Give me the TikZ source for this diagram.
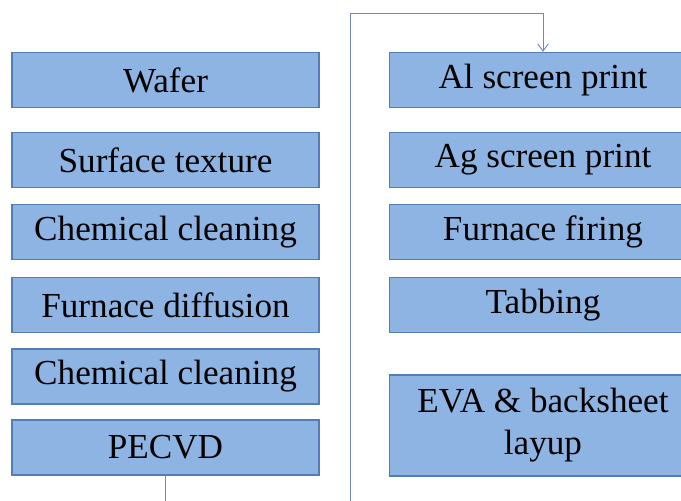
\documentclass[tikz,border=0pt]{standalone}
\usepackage{fontspec}
\newfontfamily\stagefont{Liberation Serif}
\usepackage{tikz}
\usetikzlibrary{arrows.meta, positioning}
\definecolor{stagecolor}{RGB}{142, 180, 227}
\definecolor{edgecolor}{RGB}{84, 125, 184}
\definecolor{flowcolor}{RGB}{105, 140, 190}

\begin{document}
\begin{tikzpicture}[
    x=0.03cm, y=-0.03cm,
    stage/.style={draw=edgecolor, line width=1.2pt, fill=stagecolor, minimum width=9.2cm, minimum height=1.65cm, inner sep=0pt, font=\stagefont\fontsize{30}{36}\selectfont},
    flow/.style={draw=flowcolor, line width=0.8pt},
]
    \useasboundingbox (0,0) rectangle (681,500);

    % Left column
    \node[stage] (wafer) at (165.5, 80) {Wafer};
    \node[stage] (texture) at (165.5, 160) {Surface texture};
    \node[stage] (clean1) at (165.5, 232) {Chemical cleaning};
    \node[stage] (diffusion) at (165.5, 305) {Furnace diffusion};
    \node[stage] (clean2) at (165.5, 376.5) {Chemical cleaning};
    \node[stage] (pecvd) at (165.5, 447.5) {PECVD};

    % Right column
    \node[stage] (alprint) at (543, 80) {Al screen print};
    \node[stage] (agprint) at (543, 160) {Ag screen print};
    \node[stage] (firing) at (543, 232) {Furnace firing};
    \node[stage] (tabbing) at (543, 305) {Tabbing};
    \node[stage, minimum height=3.03cm, align=center] (layup) at (543, 425.5) {EVA \& backsheet\\layup};

    % Loop from PECVD to Al screen print
    \coordinate (loopbot) at (350, 530);
    \coordinate (looptop) at (350, 13);
    \draw[flow, -{Straight Barb[length=6pt, width=9pt]}] (pecvd.south) |- (loopbot) -- (looptop) -| (alprint.north);

\end{tikzpicture}
\end{document}
